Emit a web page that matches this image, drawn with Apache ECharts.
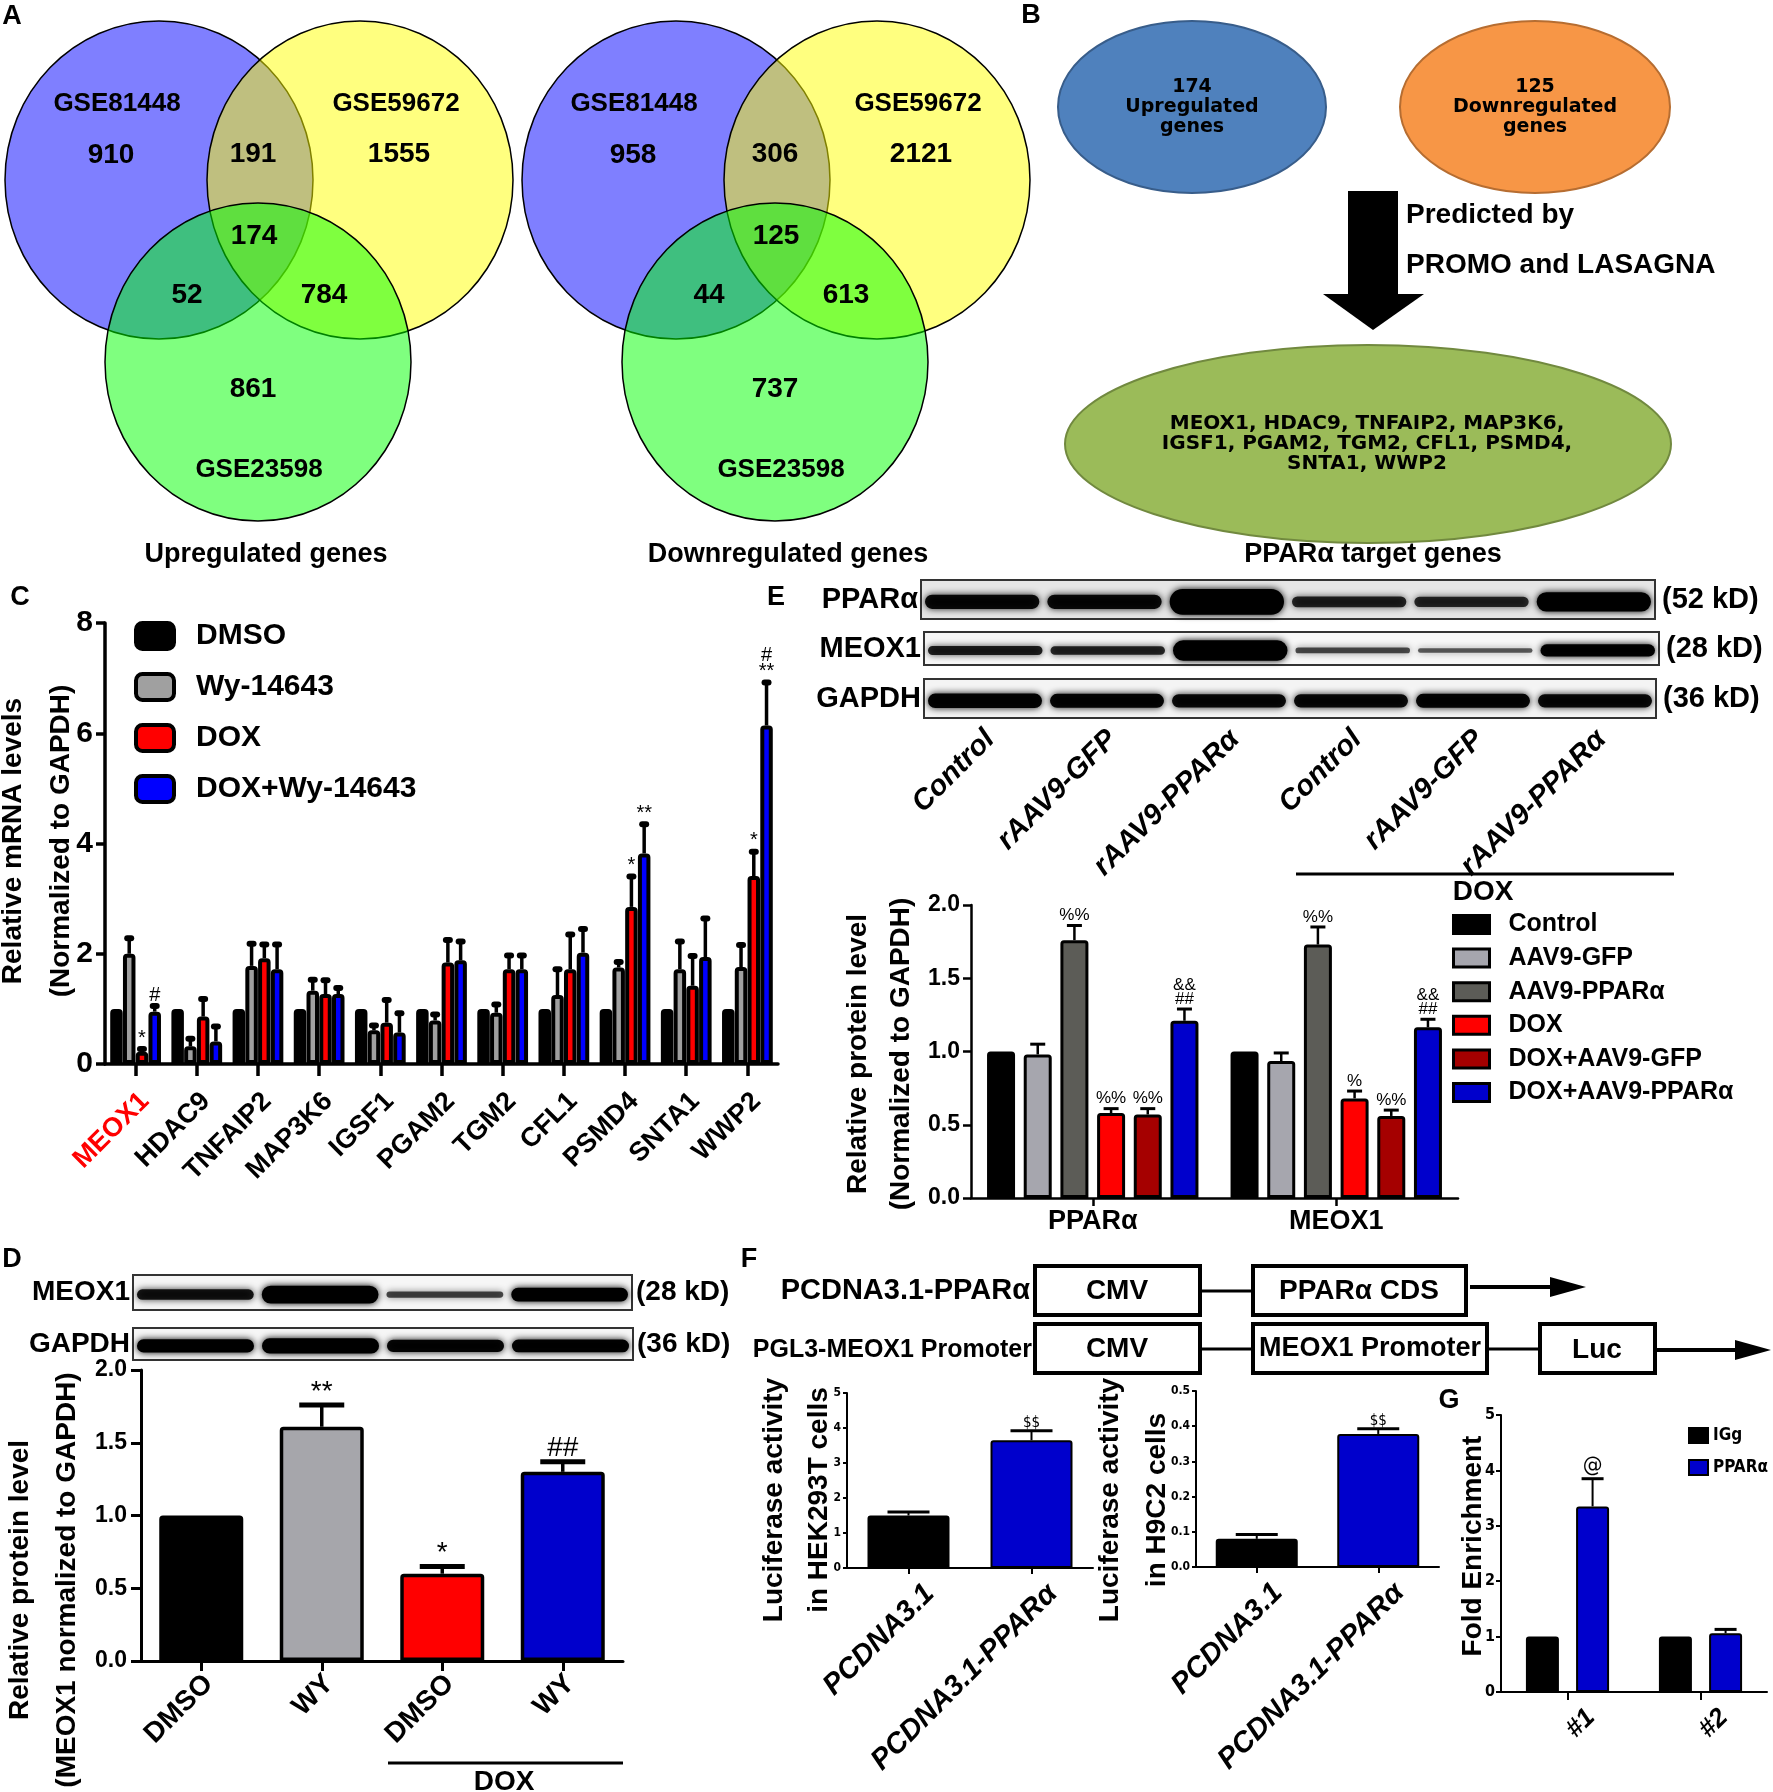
<!DOCTYPE html>
<html><head><meta charset="utf-8">
<script src="https://cdn.jsdelivr.net/npm/echarts/dist/echarts.min.js"></script>
<style>html,body{margin:0;padding:0;background:#fff;}#c{width:1773px;height:1792px;}</style>
</head><body><div id="c"></div>
<script>
// ================= DATA =================
// Panel A – Venn diagrams (regions: set1 only, set2 only, 1&2, 1&2&3, 1&3, 2&3, set3 only)
const vennSetNames = ['GSE81448', 'GSE59672', 'GSE23598'];
const vennUpCounts = [910, 1555, 191, 174, 52, 784, 861];
const vennDownCounts = [958, 2121, 306, 125, 44, 613, 737];
const vennTitles = ['Upregulated genes', 'Downregulated genes'];
// Panel B – flow
const flowUpText = ['174', 'Upregulated', 'genes'];
const flowDownText = ['125', 'Downregulated', 'genes'];
const flowArrowText = ['Predicted by', 'PROMO and LASAGNA'];
const targetGeneLines = ['MEOX1, HDAC9, TNFAIP2, MAP3K6,', 'IGSF1, PGAM2, TGM2, CFL1, PSMD4,', 'SNTA1, WWP2'];
const targetTitle = 'PPARα target genes';
// Panel C – qPCR
const cGenes = ['MEOX1', 'HDAC9', 'TNFAIP2', 'MAP3K6', 'IGSF1', 'PGAM2', 'TGM2', 'CFL1', 'PSMD4', 'SNTA1', 'WWP2'];
const cHighlightGene = 'MEOX1';
const cGroups = ['DMSO', 'Wy-14643', 'DOX', 'DOX+Wy-14643'];
const cDMSO = [1, 1, 1, 1, 1, 1, 1, 1, 1, 1, 1];
const cWy = [2.0, 0.32, 1.78, 1.33, 0.61, 0.79, 0.93, 1.25, 1.75, 1.72, 1.76];
const cDOX = [0.22, 0.86, 1.92, 1.27, 0.75, 1.84, 1.72, 1.72, 2.85, 1.42, 3.41];
const cDOXWy = [0.95, 0.41, 1.72, 1.27, 0.57, 1.88, 1.72, 2.02, 3.82, 1.94, 6.14];
const cDMSOErr = [0, 0, 0, 0, 0, 0, 0, 0, 0, 0, 0];
const cWyErr = [0.28, 0.14, 0.40, 0.20, 0.09, 0.11, 0.15, 0.47, 0.10, 0.50, 0.40];
const cDOXErr = [0.05, 0.32, 0.25, 0.25, 0.41, 0.41, 0.25, 0.63, 0.55, 0.54, 0.44];
const cDOXWyErr = [0.10, 0.27, 0.45, 0.11, 0.35, 0.34, 0.25, 0.43, 0.53, 0.70, 0.78];
const cMarksDMSO = ['', '', '', '', '', '', '', '', '', '', ''];
const cMarksWy = ['', '', '', '', '', '', '', '', '', '', ''];
const cMarksDOX = ['*', '', '', '', '', '', '', '', '*', '', '*'];
const cMarksDOXWy = ['#', '', '', '', '', '', '', '', '**', '', '#\n**'];
const cYRange = [0, 8, 2];
const cYTitle = 'Relative mRNA levels\n(Normalized to GAPDH)';
// Panel E – western blot + quantification
const eBlotProteins = ['PPARα', 'MEOX1', 'GAPDH'];
const eBlotSizes = ['(52 kD)', '(28 kD)', '(36 kD)'];
const eLanes = ['Control', 'rAAV9-GFP', 'rAAV9-PPARα', 'Control', 'rAAV9-GFP', 'rAAV9-PPARα'];
const eBandPPARa = [0.55, 0.55, 1.0, 0.42, 0.40, 0.75];
const eBandMEOX1 = [0.45, 0.42, 1.0, 0.28, 0.22, 0.60];
const eBandGAPDH = [0.60, 0.58, 0.55, 0.55, 0.58, 0.55];
const eTreatLabel = 'DOX';
const eCategories = ['PPARα', 'MEOX1'];
const eGroups = ['Control', 'AAV9-GFP', 'AAV9-PPARα', 'DOX', 'DOX+AAV9-GFP', 'DOX+AAV9-PPARα'];
const eControl = [1.0, 1.0];
const eGFP = [0.98, 0.935];
const ePPARa = [1.76, 1.73];
const eDOX = [0.58, 0.68];
const eDOXGFP = [0.57, 0.56];
const eDOXPPARa = [1.21, 1.165];
const eControlErr = [0, 0];
const eGFPErr = [0.07, 0.055];
const ePPARaErr = [0.10, 0.12];
const eDOXErr = [0.03, 0.05];
const eDOXGFPErr = [0.04, 0.04];
const eDOXPPARaErr = [0.08, 0.055];
const eControlMarks = ['', ''];
const eGFPMarks = ['', ''];
const ePPARaMarks = ['%%', '%%'];
const eDOXMarks = ['%%', '%'];
const eDOXGFPMarks = ['%%', '%%'];
const eDOXPPARaMarks = ['&&\n##', '&&\n##'];
const eYRange = [0, 2, 0.5];
const eYTitle = 'Relative protein level\n(Normalized to GAPDH)';
// Panel D
const dBlotProteins = ['MEOX1', 'GAPDH'];
const dBlotSizes = ['(28 kD)', '(36 kD)'];
const dBandMEOX1 = [0.50, 0.85, 0.30, 0.65];
const dBandGAPDH = [0.62, 0.72, 0.58, 0.60];
const dCategories = ['DMSO', 'WY', 'DMSO', 'WY'];
const dValues = [1.0, 1.61, 0.60, 1.30];
const dErr = [0, 0.15, 0.05, 0.07];
const dMarks = ['', '**', '*', '##'];
const dTreatLabel = 'DOX';
const dYRange = [0, 2, 0.5];
const dYTitle = 'Relative protein level\n(MEOX1 normalized to GAPDH)';
// Panel F
const fConstructs = ['PCDNA3.1-PPARα', 'PGL3-MEOX1 Promoter'];
const fRow1Parts = ['CMV', 'PPARα CDS'];
const fRow2Parts = ['CMV', 'MEOX1 Promoter', 'Luc'];
const fCategories = ['PCDNA3.1', 'PCDNA3.1-PPARα'];
const fHEK = [1.5, 3.65];
const fHEKErr = [0.10, 0.27];
const fHEKMarks = ['', '$$'];
const fHEKRange = [0, 5, 1];
const fHEKTitle = 'Luciferase activity\nin HEK293T cells';
const fH9C2 = [0.08, 0.378];
const fH9C2Err = [0.012, 0.015];
const fH9C2Marks = ['', '$$'];
const fH9C2Range = [0, 0.5, 0.1];
const fH9C2Title = 'Luciferase activity\nin H9C2 cells';
// Panel G
const gCategories = ['#1', '#2'];
const gGroups = ['IGg', 'PPARα'];
const gIgG = [1.0, 1.0];
const gPPARa = [3.35, 1.06];
const gIgGErr = [0, 0];
const gPPARaErr = [0.50, 0.07];
const gIgGMarks = ['', ''];
const gPPARaMarks = ['@', ''];
const gYRange = [0, 5, 1];
const gYTitle = 'Fold Enrichment';

// ================= STYLE HELPERS =================
const FF = '"Liberation Sans", Arial, Helvetica, sans-serif';
const NF = '"Liberation Sans Narrow", "DejaVu Sans Condensed", sans-serif';
const DF = '"DejaVu Sans", Verdana, sans-serif';

function txt(x, y, text, size, o) {
  o = o || {};
  const al = o.align || 'center', va = o.valign || 'middle';
  const st = {
    text: text, fill: o.color || '#000',
    font: (o.italic ? 'italic ' : '') + (o.weight || 'bold') + ' ' + size + 'px ' + (o.family || FF),
    align: al, verticalAlign: va, textAlign: al, textVerticalAlign: va
  };
  if (o.lh) { st.lineHeight = o.lh; st.textLineHeight = o.lh; }
  return { type: 'text', x: x, y: y, rotation: o.rot || 0, silent: true, style: st };
}
function rectEl(x, y, w, h, style) { return { type: 'rect', silent: true, shape: { x: x, y: y, width: w, height: h }, style: style }; }
function lineEl(x1, y1, x2, y2, lw) { return { type: 'line', silent: true, shape: { x1: x1, y1: y1, x2: x2, y2: y2 }, style: { stroke: '#000', lineWidth: lw } }; }
function polyEl(points) { return { type: 'polygon', silent: true, shape: { points: points }, style: { fill: '#000' } }; }

function blot(x, y, w, h, dens, k, bg) {
  const els = [rectEl(x, y, w, h, { fill: bg, stroke: '#333', lineWidth: 2 })];
  const lw = w / dens.length;
  dens.forEach(function (d, i) {
    const bh = Math.max(4, k * h * d);
    const a = Math.min(1, 0.38 + d);
    els.push({ type: 'rect', silent: true,
      shape: { x: x + i * lw + 4, y: y + h * 0.56 - bh / 2, width: lw - 8, height: bh, r: bh / 2 },
      style: { fill: 'rgba(0,0,0,' + a + ')', shadowBlur: 7, shadowColor: 'rgba(0,0,0,' + a + ')' } });
  });
  return els;
}

// ================= GRAPHICS =================
const G = [];
[['A', 12, 17], ['B', 1031, 16], ['C', 20, 598], ['E', 776, 598], ['D', 12, 1260], ['F', 749, 1260], ['G', 1449, 1401]]
  .forEach(function (p) { G.push(txt(p[1], p[2], p[0], 27)); });

function venn(dx, counts, title) {
  const sty = function (c) { return { fill: c, stroke: '#000', lineWidth: 1.5 }; };
  G.push({ type: 'ellipse', silent: true, shape: { cx: 159 + dx, cy: 180, rx: 154, ry: 159 }, style: sty('rgba(0,0,255,0.5)') });
  G.push({ type: 'ellipse', silent: true, shape: { cx: 360 + dx, cy: 180, rx: 153, ry: 159 }, style: sty('rgba(255,255,0,0.5)') });
  G.push({ type: 'ellipse', silent: true, shape: { cx: 258 + dx, cy: 362, rx: 153, ry: 159 }, style: sty('rgba(0,255,0,0.5)') });
  const t = dx ? 5 : 0;
  G.push(txt(117 + dx, 104, vennSetNames[0], 26));
  G.push(txt(396 + dx + t, 104, vennSetNames[1], 26));
  G.push(txt(259 + dx + t, 470, vennSetNames[2], 26));
  const pos = [[111, 155], [399, 154], [253, 154], [254, 236], [187, 295], [324, 295], [253, 389]];
  counts.forEach(function (c, i) { G.push(txt(pos[i][0] + dx + t, pos[i][1], String(c), 28)); });
  G.push(txt(266 + dx + t, 555, title, 27));
}
venn(0, vennUpCounts, vennTitles[0]);
venn(517, vennDownCounts, vennTitles[1]);

// Panel B
G.push({ type: 'ellipse', silent: true, shape: { cx: 1192, cy: 107, rx: 134, ry: 86 }, style: { fill: '#4F81BD', stroke: '#385D8A', lineWidth: 2 } });
G.push({ type: 'ellipse', silent: true, shape: { cx: 1535, cy: 107, rx: 135, ry: 86 }, style: { fill: '#F79646', stroke: '#B66D31', lineWidth: 2 } });
flowUpText.forEach(function (s, i) { G.push(txt(1192, 87 + i * 20, s, 19, { family: DF })); });
flowDownText.forEach(function (s, i) { G.push(txt(1535, 87 + i * 20, s, 19, { family: DF })); });
G.push(rectEl(1348, 191, 50, 104, { fill: '#000' }));
G.push(polyEl([[1323, 294], [1424, 294], [1373, 330]]));
G.push(txt(1406, 215, flowArrowText[0], 28, { align: 'left' }));
G.push(txt(1406, 265, flowArrowText[1], 28, { align: 'left' }));
G.push({ type: 'ellipse', silent: true, shape: { cx: 1368, cy: 444, rx: 303, ry: 99 }, style: { fill: '#9BBB59', stroke: '#71893F', lineWidth: 2 } });
targetGeneLines.forEach(function (s, i) { G.push(txt(1367, 424 + i * 20, s, 20, { family: DF })); });
G.push(txt(1373, 555, targetTitle, 27));

// Panel C axis title
G.push(txt(37, 841, cYTitle, 28, { rot: Math.PI / 2, lh: 48 }));

// Panel E blot
const eBoxes = [[921, 580, 734, 39, eBandPPARa, 0.66, '#e6e6e6'], [924, 632, 735, 33, eBandMEOX1, 0.62, '#f7f7f7'], [924, 679, 732, 39, eBandGAPDH, 0.62, '#f4f4f4']];
eBoxes.forEach(function (b, i) {
  blot(b[0], b[1], b[2], b[3], b[4], b[5], b[6]).forEach(function (e) { G.push(e); });
  G.push(txt(b[0] - 3, b[1] + b[3] / 2, eBlotProteins[i], 29, { align: 'right' }));
  G.push(txt(b[0] + b[2] + 7, b[1] + b[3] / 2, eBlotSizes[i], 29, { align: 'left' }));
});
eLanes.forEach(function (s, i) {
  const cx = 924 + (i + 0.5) * 122.3;
  G.push(txt(cx + 5, 735, s, 29, { align: 'right', italic: true, rot: Math.PI / 4 }));
});
G.push(lineEl(1296, 874, 1674, 874, 3));
G.push(txt(1483, 892, eTreatLabel, 28));
G.push(txt(880, 1054, eYTitle, 28, { rot: Math.PI / 2, lh: 43 }));

// Panel D blot
const dBoxes = [[133, 1275, 499, 35, dBandMEOX1, 0.6, '#f6f6f6'], [133, 1328, 500, 32, dBandGAPDH, 0.66, '#f6f6f6']];
dBoxes.forEach(function (b, i) {
  blot(b[0], b[1], b[2], b[3], b[4], b[5], b[6]).forEach(function (e) { G.push(e); });
  G.push(txt(b[0] - 3, b[1] + b[3] / 2, dBlotProteins[i], 28, { align: 'right' }));
  G.push(txt(b[0] + b[2] + 4, b[1] + b[3] / 2, dBlotSizes[i], 28, { align: 'left' }));
});
G.push(lineEl(388, 1763, 623, 1763, 3));
G.push(txt(504, 1782, dTreatLabel, 28));
G.push(txt(44, 1580, dYTitle, 28, { rot: Math.PI / 2, lh: 47 }));

// Panel F construct diagram
const boxSty = { fill: '#fff', stroke: '#000', lineWidth: 4 };
G.push(txt(1030, 1291, fConstructs[0], 29, { align: 'right' }));
G.push(txt(1032, 1350, fConstructs[1], 25, { align: 'right' }));
G.push(rectEl(1035, 1266, 165, 49, boxSty)); G.push(txt(1117, 1291, fRow1Parts[0], 28));
G.push(lineEl(1200, 1291, 1253, 1291, 3));
G.push(rectEl(1253, 1266, 213, 49, boxSty)); G.push(txt(1359, 1291, fRow1Parts[1], 28));
G.push(lineEl(1470, 1287, 1556, 1287, 4)); G.push(polyEl([[1550, 1277], [1586, 1287], [1550, 1297]]));
G.push(rectEl(1035, 1324, 165, 49, boxSty)); G.push(txt(1117, 1349, fRow2Parts[0], 28));
G.push(lineEl(1200, 1349, 1253, 1349, 3));
G.push(rectEl(1253, 1324, 234, 49, boxSty)); G.push(txt(1370, 1349, fRow2Parts[1], 27));
G.push(lineEl(1487, 1349, 1540, 1349, 3));
G.push(rectEl(1540, 1324, 115, 49, boxSty)); G.push(txt(1597, 1350, fRow2Parts[2], 28));
G.push(lineEl(1657, 1350, 1740, 1350, 4)); G.push(polyEl([[1735, 1340], [1771, 1350], [1735, 1360]]));
G.push(txt(797, 1500, fHEKTitle, 28, { rot: Math.PI / 2, lh: 45 }));
G.push(txt(1134, 1500, fH9C2Title, 28, { rot: Math.PI / 2, lh: 47 }));
G.push(txt(1473, 1546, gYTitle, 28, { rot: Math.PI / 2 }));

// ================= AXES =================
function valAxis(gi, range, o) {
  return { type: 'value', gridIndex: gi, min: range[0], max: range[1], interval: range[2],
    axisLine: { show: true, lineStyle: { color: '#000', width: o.lw } },
    axisTick: { show: true, length: o.tick, lineStyle: { color: '#000', width: o.lw } },
    splitLine: { show: false },
    axisLabel: { fontSize: o.fs, fontWeight: 'bold', fontFamily: o.ff || FF, color: '#000', margin: o.margin,
      formatter: o.dec ? function (v) { return v.toFixed(o.dec); } : function (v) { return String(v); } } };
}
function catAxis(gi, data, o) {
  const lab = { interval: 0, fontSize: o.fs, fontWeight: 'bold', fontStyle: o.italic ? 'italic' : 'normal', fontFamily: FF,
    color: o.color || '#000', margin: o.margin, rotate: o.rot || 0 };
  if (o.lh) { lab.verticalAlign = 'top'; lab.lineHeight = o.lh; }
  return { type: 'category', gridIndex: gi, data: data,
    axisLine: { show: true, lineStyle: { color: '#000', width: o.lw } },
    axisTick: { show: true, alignWithLabel: true, length: o.tick, lineStyle: { color: '#000', width: o.lw } },
    axisLabel: lab };
}

const grids = [
  { left: 105, top: 623, width: 673, height: 441 },   // C
  { left: 971, top: 905, width: 487, height: 293 },   // E
  { left: 141, top: 1370, width: 482, height: 291 },  // D
  { left: 847, top: 1393, width: 246, height: 175 },  // F1
  { left: 1196, top: 1391, width: 243, height: 176 }, // F2
  { left: 1501, top: 1415, width: 266, height: 277 }  // G
];
const xAxes = [
  catAxis(0, cGenes, { lw: 3.5, tick: 12, fs: 27, margin: 24, rot: 45, lh: 26,
    color: function (v) { return v === cHighlightGene ? '#FF0000' : '#000'; } }),
  catAxis(1, eCategories, { lw: 2.5, tick: 8, fs: 27, margin: 10 }),
  catAxis(2, dCategories, { lw: 3, tick: 10, fs: 28, margin: 11, rot: 45, lh: 21 }),
  catAxis(3, fCategories, { lw: 2, tick: 6, fs: 29, margin: 0, rot: 45, italic: true, lh: 60 }),
  catAxis(4, fCategories, { lw: 2, tick: 6, fs: 29, margin: 0, rot: 45, italic: true, lh: 60 }),
  catAxis(5, gCategories, { lw: 2, tick: 8, fs: 26, margin: -2, rot: 45, italic: true, lh: 66 })
];
const yAxes = [
  valAxis(0, cYRange, { lw: 3.5, tick: 9, fs: 30, margin: 12 }),
  valAxis(1, eYRange, { lw: 2.5, tick: 8, fs: 23, margin: 11, dec: 1 }),
  valAxis(2, dYRange, { lw: 3, tick: 10, fs: 23, margin: 14, dec: 1 }),
  valAxis(3, fHEKRange, { lw: 2, tick: 4, fs: 12, margin: 6, ff: NF }),
  valAxis(4, fH9C2Range, { lw: 2, tick: 4, fs: 12, margin: 6, ff: NF, dec: 1 }),
  valAxis(5, gYRange, { lw: 2, tick: 5, fs: 16, margin: 6, ff: NF })
];

// ================= SERIES =================
function errorSeries(ai, vals, errs, marks, o) {
  const n = vals.length, items = [];
  vals.forEach(function (arr, si) { arr.forEach(function (v, ci) { items.push([ci, v, errs[si][ci], si, marks[si][ci] || '']); }); });
  return { type: 'custom', xAxisIndex: ai, yAxisIndex: ai, z: 5, silent: true, clip: false,
    data: items.map(function (d) { return [d[0], d[1], d[2], d[3]]; }),
    encode: { x: 0, y: 1 },
    renderItem: function (params, api) {
      const it = items[params.dataIndex];
      const base = api.coord([it[0], it[1]]);
      const top = api.coord([it[0], it[1] + it[2]]);
      const x = base[0] + (it[3] - (n - 1) / 2) * o.bw * (1 + o.gap);
      const ch = [];
      if (it[2] > 0) {
        ch.push({ type: 'line', shape: { x1: x, y1: base[1], x2: x, y2: top[1] }, style: { stroke: '#000', lineWidth: o.lw } });
        if (o.blob) ch.push({ type: 'rect', shape: { x: x - o.capW / 2, y: top[1] - o.capH / 2, width: o.capW, height: o.capH, r: o.capH / 2 }, style: { fill: '#000' } });
        else ch.push({ type: 'line', shape: { x1: x - o.capW / 2, y1: top[1], x2: x + o.capW / 2, y2: top[1] }, style: { stroke: '#000', lineWidth: o.capH } });
      }
      if (it[4]) {
        ch.push({ type: 'text', x: x, y: top[1] - o.markGap,
          style: { text: it[4], fill: '#000', font: o.markFont, align: 'center', verticalAlign: 'bottom',
            textAlign: 'center', textVerticalAlign: 'bottom', lineHeight: o.markLH, textLineHeight: o.markLH } });
      }
      return { type: 'group', children: ch };
    } };
}
function barSeries(name, ai, data, color, bw, gap, bwid) {
  return { type: 'bar', name: name, xAxisIndex: ai, yAxisIndex: ai, data: data, barWidth: bw, barGap: gap,
    emphasis: { disabled: true },
    itemStyle: { color: color, borderColor: '#000', borderWidth: bwid, borderRadius: [2, 2, 0, 0] } };
}

const series = [];
// C
const cVals = [cDMSO, cWy, cDOX, cDOXWy];
const cColors = ['#000000', '#A0A0A0', '#FF0000', '#0000FF'];
cGroups.forEach(function (g, i) { series.push(barSeries(g, 0, cVals[i], cColors[i], 12.5, '2%', 4)); });
series.push(errorSeries(0, cVals, [cDMSOErr, cWyErr, cDOXErr, cDOXWyErr], [cMarksDMSO, cMarksWy, cMarksDOX, cMarksDOXWy],
  { bw: 12.5, gap: 0.02, lw: 3.5, blob: true, capW: 10, capH: 6, markGap: 3, markFont: '20px ' + FF, markLH: 16 }));
// E
const eVals = [eControl, eGFP, ePPARa, eDOX, eDOXGFP, eDOXPPARa];
const eColors = ['#000000', '#A6A6AE', '#5C5C57', '#FF0000', '#A50000', '#0000CC'];
eGroups.forEach(function (g, i) { series.push(barSeries('E:' + g, 1, eVals[i], eColors[i], 28, '31%', 3)); });
series.push(errorSeries(1, eVals, [eControlErr, eGFPErr, ePPARaErr, eDOXErr, eDOXGFPErr, eDOXPPARaErr],
  [eControlMarks, eGFPMarks, ePPARaMarks, eDOXMarks, eDOXGFPMarks, eDOXPPARaMarks],
  { bw: 28, gap: 0.31, lw: 2.5, capW: 15, capH: 3, markGap: 3, markFont: '17px ' + FF, markLH: 14 }));
// D
const dColors = ['#000000', '#A6A6AB', '#FF0000', '#0000CC'];
series.push(barSeries('D', 2, dValues.map(function (v, i) { return { value: v, itemStyle: { color: dColors[i] } }; }), '#000', 84, '0%', 3.5));
series.push(errorSeries(2, [dValues], [dErr], [dMarks],
  { bw: 84, gap: 0, lw: 3.5, capW: 45, capH: 5, markGap: 1, markFont: '28px ' + FF, markLH: 24 }));
// F1, F2
const fColors = ['#000000', '#0000CC'];
series.push(barSeries('F1', 3, fHEK.map(function (v, i) { return { value: v, itemStyle: { color: fColors[i] } }; }), '#000', 82, '0%', 2));
series.push(errorSeries(3, [fHEK], [fHEKErr], [fHEKMarks],
  { bw: 82, gap: 0, lw: 2, capW: 42, capH: 3, markGap: 1, markFont: '15px ' + NF, markLH: 14 }));
series.push(barSeries('F2', 4, fH9C2.map(function (v, i) { return { value: v, itemStyle: { color: fColors[i] } }; }), '#000', 82, '0%', 2));
series.push(errorSeries(4, [fH9C2], [fH9C2Err], [fH9C2Marks],
  { bw: 82, gap: 0, lw: 2, capW: 42, capH: 3, markGap: 1, markFont: '15px ' + NF, markLH: 14 }));
// G
const gVals = [gIgG, gPPARa];
const gColors = ['#000000', '#0000CC'];
gGroups.forEach(function (g, i) { series.push(barSeries('G:' + g, 5, gVals[i], gColors[i], 33, '52%', 2)); });
series.push(errorSeries(5, gVals, [gIgGErr, gPPARaErr], [gIgGMarks, gPPARaMarks],
  { bw: 33, gap: 0.52, lw: 2, capW: 22, capH: 3, markGap: 2, markFont: '22px ' + NF, markLH: 20 }));

// ================= LEGENDS =================
const legends = [
  { left: 134, top: 621, padding: 0, orient: 'vertical', icon: 'roundRect', itemWidth: 38, itemHeight: 26, itemGap: 21, selectedMode: false,
    data: cGroups, itemStyle: { borderColor: '#000', borderWidth: 4 },
    textStyle: { fontSize: 30, fontWeight: 'bold', fontFamily: FF, color: '#000', lineHeight: 30, padding: [0, 0, 0, 17] } },
  { left: 1452, top: 912, padding: 0, orient: 'vertical', icon: 'rect', itemWidth: 36, itemHeight: 18, itemGap: 8.6, selectedMode: false,
    data: eGroups.map(function (g) { return 'E:' + g; }), formatter: function (n) { return n.slice(2); },
    itemStyle: { borderColor: '#000', borderWidth: 3 },
    textStyle: { fontSize: 25, fontWeight: 'bold', fontFamily: FF, color: '#000', lineHeight: 25, padding: [0, 0, 0, 14] } },
  { left: 1688, top: 1427, padding: 0, orient: 'vertical', icon: 'rect', itemWidth: 19, itemHeight: 15, itemGap: 15, selectedMode: false,
    data: gGroups.map(function (g) { return 'G:' + g; }), formatter: function (n) { return n.slice(2); },
    itemStyle: { borderColor: '#000', borderWidth: 2 },
    textStyle: { fontSize: 17, fontWeight: 'bold', fontFamily: NF, color: '#000', lineHeight: 17, padding: [0, 0, 0, 0] } }
];

const chart = echarts.init(document.getElementById('c'), null, { renderer: 'canvas' });
chart.setOption({
  animation: false,
  backgroundColor: '#ffffff',
  textStyle: { fontFamily: FF },
  grid: grids,
  xAxis: xAxes,
  yAxis: yAxes,
  legend: legends,
  series: series,
  graphic: { elements: G }
});
</script></body></html>
